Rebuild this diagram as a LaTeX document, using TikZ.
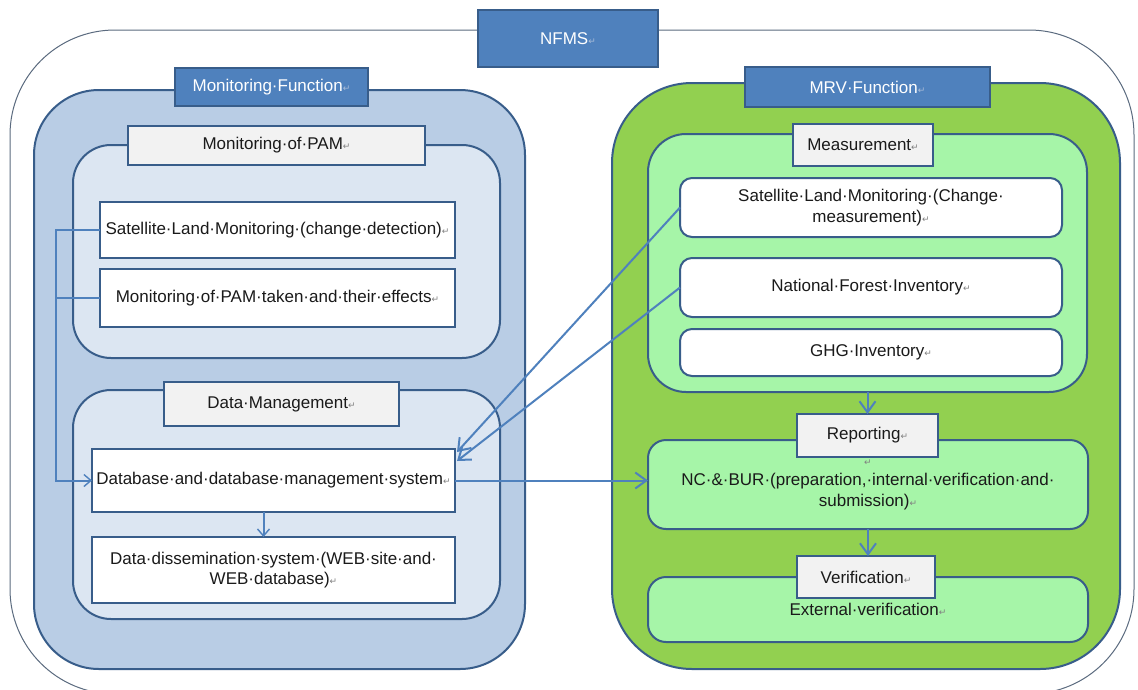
\documentclass[tikz,border=0pt]{standalone}
\usepackage{fontspec}
\setmainfont{Liberation Sans}
\newfontfamily\djv{DejaVu Sans}
\usetikzlibrary{arrows.meta}
\definecolor{bd}{HTML}{385D8A}
\definecolor{hdr}{HTML}{4F81BD}
\definecolor{conn}{HTML}{4F81BD}
\definecolor{bluereg}{HTML}{B9CDE5}
\definecolor{bluein}{HTML}{DCE6F2}
\definecolor{lgray}{HTML}{F2F2F2}
\definecolor{greenreg}{HTML}{92D050}
\definecolor{greenin}{HTML}{A6F5A8}
\definecolor{outerc}{HTML}{5B6B7F}
\definecolor{txt}{HTML}{1A1A1A}
\definecolor{retc}{HTML}{808080}
\definecolor{retw}{HTML}{A9BCD8}
\newcommand\rt{{\djv\fontsize{9}{9}\selectfont\textcolor{retc}{↵}}}
\newcommand\rtw{{\djv\fontsize{9}{9}\selectfont\textcolor{retw}{↵}}}
% \bx{style}{name}{x1}{y1}{x2}{y2}{text}
\newcommand\bx[7]{\node[#1, minimum width={#5-#3}, minimum height={#6-#4}] (#2) at ({(#3+#5)/2},{(#4+#6)/2}) {#7};}
\tikzset{
  every node/.style={font=\fontsize{17}{20.5}\selectfont, text=txt, align=center, inner sep=0pt, outer sep=0pt},
  outerbox/.style={draw=outerc, line width=1pt, fill=white},
  hdrbox/.style={draw=bd, line width=2pt, fill=hdr, text=white},
  region/.style={draw=bd, line width=2pt},
  lblbox/.style={draw=bd, line width=2pt, fill=lgray},
  wbox/.style={draw=bd, line width=2pt, fill=white},
  conn/.style={draw=conn, line width=2pt},
  smalltip/.style={-{Straight Barb[length=7pt,width=12pt,line width=1.4pt]}},
  bigtip/.style={-{Straight Barb[length=11pt,width=16pt,line width=2pt]}}
}
\begin{document}
\begin{tikzpicture}[x=1pt,y=-1pt]
\useasboundingbox (0,0) rectangle (1138,689);
% outer NFMS frame
\bx{outerbox, rounded corners=105pt}{nfmsframe}{10}{30}{1134}{694}{}
\bx{hdrbox}{nfms}{478}{10}{658}{67}{NFMS\rtw}

% ---------------- Monitoring side
\bx{region, fill=bluereg, rounded corners=65pt}{monreg}{34}{90}{525}{669}{}
\bx{hdrbox}{monfun}{175}{68}{368}{106}{Monitoring·Function\rtw}

\bx{region, fill=bluein, rounded corners=38pt}{pamreg}{73}{145}{500}{358}{}
\bx{lblbox}{pamlbl}{128}{126}{425}{165}{Monitoring·of·PAM\rt}
\bx{wbox}{sat}{100}{202}{455}{258}{Satellite·Land·Monitoring·(change·detection)\rt}
\bx{wbox}{pam}{100}{269}{455}{327}{Monitoring·of·PAM·taken·and·their·effects\rt}

\bx{region, fill=bluein, rounded corners=38pt}{dmreg}{73}{390}{500}{619}{}
\bx{lblbox}{dmlbl}{164}{382}{399}{426}{Data·Management\rt}
\bx{wbox}{db}{92}{449}{455}{512}{Database·and·database·management·system\rt}
\bx{wbox}{dis}{92}{537}{455}{603}{Data·dissemination·system·(WEB·site·and·\\WEB·database)\rt}

% ---------------- MRV side
\bx{region, fill=greenreg, rounded corners=80pt}{mrvreg}{612}{83}{1120}{669}{}
\bx{hdrbox}{mrvfun}{745}{67}{990}{107}{MRV·Function\rtw}

\bx{region, fill=greenin, rounded corners=38pt}{measreg}{648}{134}{1087}{392}{}
\bx{lblbox}{measlbl}{793}{124}{933}{166}{Measurement\rt}
\bx{wbox, rounded corners=12pt}{msat}{680}{178}{1062}{237}{Satellite·Land·Monitoring·(Change·\\measurement)\rt}
\bx{wbox, rounded corners=12pt}{nfi}{680}{258}{1062}{317}{National·Forest·Inventory\rt}
\bx{wbox, rounded corners=12pt}{ghg}{680}{329}{1062}{376}{GHG·Inventory\rt}

\bx{region, fill=greenin, rounded corners=18pt}{repreg}{648}{440}{1088}{529}{\rt\\NC·\&·BUR·(preparation,·internal·verification·and·\\submission)\rt}
\bx{lblbox}{replbl}{797}{414}{938}{457}{Reporting\rt}

\bx{region, fill=greenin, rounded corners=18pt}{verreg}{648}{577}{1088}{642}{External·verification\rt}
\bx{lblbox}{verlbl}{797}{556}{935}{598}{Verification\rt}

% ---------------- connectors
\draw[conn, smalltip] (sat.west) -- ++(-44,0) |- (db.west);
\draw[conn] (pam.west) -- ++(-44,0);
\draw[conn, smalltip] ([xshift=-10pt]db.south) -- ([xshift=-10pt]db.south |- dis.north);
\draw[conn, bigtip] (msat.west) -- ([xshift=2pt,yshift=-3pt]db.north east);
\draw[conn, bigtip] (nfi.west) -- ([xshift=2pt,yshift=-12pt]db.north east);
\draw[conn, bigtip] (db.east) -- (db.east -| repreg.west);
\draw[conn, bigtip] (measreg.south) -- (measreg.south |- replbl.north);
\draw[conn, bigtip] (repreg.south) -- (repreg.south |- verlbl.north);
\end{tikzpicture}
\end{document}
